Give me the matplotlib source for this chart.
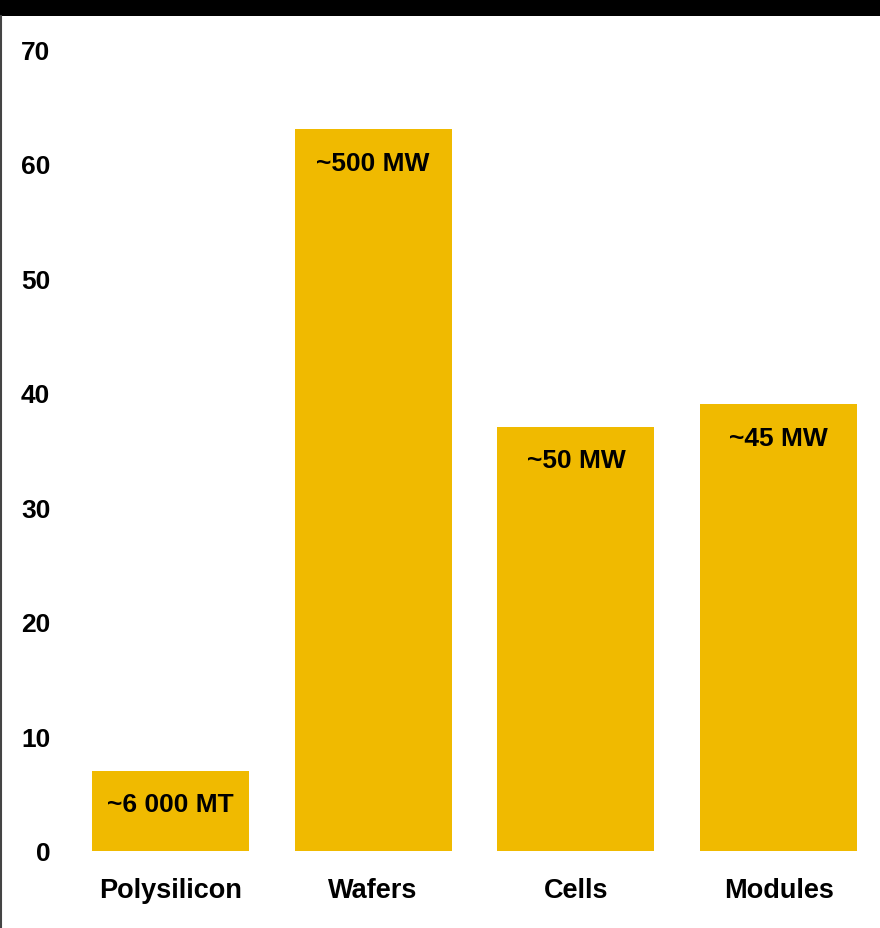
import matplotlib
matplotlib.use("Agg")
import matplotlib.pyplot as plt
from matplotlib.patches import Rectangle
from matplotlib.lines import Line2D

# Data
categories = ["Polysilicon", "Wafers", "Cells", "Modules"]
values = [7, 63, 37, 39]
bar_labels = ["~6 000 MT", "~500 MW", "~50 MW", "~45 MW"]
y_ticks = [0, 10, 20, 30, 40, 50, 60, 70]

plt.rcParams["font.family"] = ["Liberation Sans", "DejaVu Sans"]
plt.rcParams["font.weight"] = "bold"

W, H = 880, 929
fig = plt.figure(figsize=(W / 100, H / 100), dpi=100)
fig.patch.set_facecolor("white")

# Axes placement in pixel terms
left_px, right_px = 69, 880
bottom_px, top_px = 852, 50
ax = fig.add_axes([left_px / W, 1 - bottom_px / H,
                   (right_px - left_px) / W, (bottom_px - top_px) / H])

bar_color = "#F0BA00"
x = list(range(len(categories)))
bars = ax.bar(x, values, width=0.775, color=bar_color, edgecolor="none")

for rect, val, lab in zip(bars, values, bar_labels):
    ax.annotate(lab, xy=(rect.get_x() + rect.get_width() / 2, val),
                xytext=(0, -24), textcoords="offset points",
                ha="center", va="center", fontsize=19, fontweight="bold",
                color="black")

ax.set_xlim(-0.5, 3.5)
ax.set_ylim(0, 70)
ax.set_yticks(y_ticks)
ax.set_yticklabels([str(t) for t in y_ticks], fontsize=19, fontweight="bold")
ax.set_xticks(x)
ax.set_xticklabels(categories, fontsize=19.5, fontweight="bold")
ax.tick_params(axis="both", length=0)
ax.tick_params(axis="y", pad=13.5)
ax.tick_params(axis="x", pad=19)
for s in ax.spines.values():
    s.set_visible(False)

# Black banner along the top and thin frame line on the left
fig.add_artist(Rectangle((0, 1 - 17 / H), 1, 17 / H, transform=fig.transFigure,
                         facecolor="black", edgecolor="none"))
fig.add_artist(Line2D([1.2 / W, 1.2 / W], [0, 1 - 17 / H], transform=fig.transFigure,
                      color="#444444", linewidth=1.5))

fig.savefig("out.png", dpi=100)
